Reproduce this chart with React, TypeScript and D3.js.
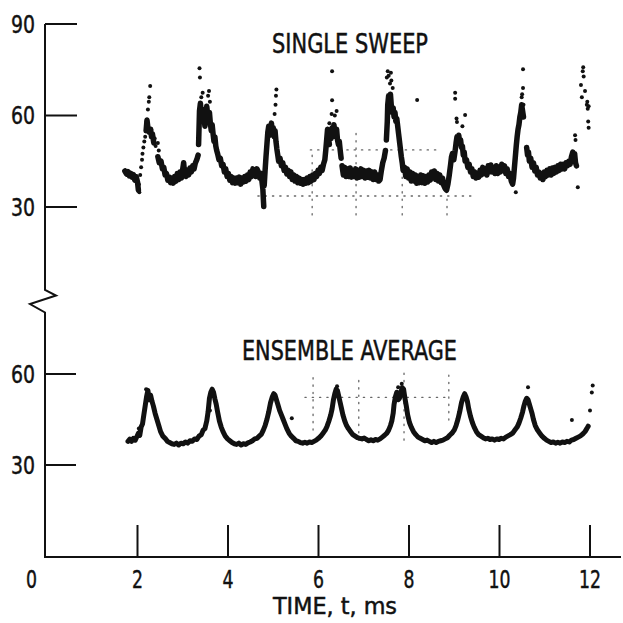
import React from "react";
import * as d3 from "d3";

type P = [number, number] | null;

// ---------- DATA ----------
const xTicks = [0, 2, 4, 6, 8, 10, 12];
const topTicks = [90, 60, 30];
const bottomTicks = [60, 30];
const topTitle = "SINGLE SWEEP";
const bottomTitle = "ENSEMBLE AVERAGE";
const xLabel = "TIME, t, ms";

// single sweep trace (time ms, value); null = gap
const sweepTrace: P[] = [
  [1.72,41.8],[1.76,40.8],[1.79,41.6],[1.82,40.2],[1.85,41.0],[1.88,39.8],[1.91,40.6],[1.94,38.8],[1.97,40.0],[2.00,38.2],[2.02,35.5], null,
  [2.19,55.0],[2.21,58.5],[2.23,56.0],[2.26,54.5],[2.29,55.5],[2.31,53.0],[2.33,54.0],[2.36,51.0], null,
  [2.45,46.5],[2.48,44.5],[2.52,45.0],[2.55,42.5],[2.58,43.0],[2.61,40.5],[2.64,41.0],[2.67,38.8],[2.70,39.8],[2.73,38.0],[2.76,39.5],[2.79,37.8],[2.82,40.0],[2.85,38.5],[2.88,41.0],[2.91,39.0],[2.94,41.5],[2.97,39.5],[3.00,42.5],[3.02,44.5],[3.04,41.0],[3.07,40.0],[3.10,42.0],[3.13,40.5],[3.16,42.8],[3.19,41.5],[3.22,43.5],[3.25,42.5],[3.28,44.5],[3.31,45.5],[3.34,47.0], null,
  [3.35,50.5],[3.36,56.0],[3.37,61.5],[3.39,64.0],[3.41,60.5],[3.43,58.0],[3.45,62.0],[3.47,59.5],[3.49,56.5],[3.51,60.0],[3.53,63.0],[3.55,60.5],[3.57,58.0],[3.59,61.0],[3.61,57.5],[3.63,55.0],[3.65,57.0],[3.67,54.0],[3.69,51.5],[3.71,53.0],[3.73,50.0],[3.75,48.5],
  [3.77,47.5],[3.80,45.5],[3.83,46.0],[3.86,43.5],[3.89,44.0],[3.92,41.5],[3.95,42.5],[3.98,40.0],[4.01,41.0],[4.04,38.8],[4.07,40.0],[4.10,38.0],[4.13,39.5],[4.16,37.8],[4.19,39.5],[4.22,38.0],[4.25,39.8],[4.28,37.5],[4.31,39.5],[4.34,38.2],[4.37,40.0],[4.40,38.5],[4.43,40.5],[4.46,39.0],[4.49,41.5],[4.52,40.0],[4.55,42.5],[4.58,41.0],[4.61,40.0],[4.64,42.5],[4.67,41.5],[4.70,39.5],[4.73,41.0],[4.75,38.5],[4.77,36.0],[4.78,33.0],[4.79,30.2], null,
  [4.80,37.0],[4.82,42.0],[4.84,46.5],[4.86,50.5],[4.88,54.5],[4.90,56.5],[4.92,53.5],[4.94,55.5],[4.96,57.5],[4.98,54.0],[5.00,56.0],[5.02,53.0],[5.04,55.0],[5.06,51.5],[5.08,49.0],[5.10,47.0],[5.12,45.0],[5.15,46.0],[5.18,43.5],[5.21,44.5],[5.24,42.0],[5.27,43.0],[5.30,40.8],[5.33,42.0],[5.36,40.0],[5.39,41.5],[5.42,39.0],[5.45,40.5],[5.48,38.5],[5.51,40.0],[5.54,38.0],[5.57,39.5],[5.60,37.8],[5.63,39.0],[5.66,37.5],[5.69,39.0],[5.72,37.8],[5.75,39.5],[5.78,38.0],[5.81,40.0],[5.84,38.5],[5.87,40.5],[5.90,39.0],[5.93,41.0],[5.96,40.0],[5.99,42.0],[6.02,41.0],[6.05,43.0],[6.08,42.0],[6.11,44.0],[6.14,45.5],[6.16,48.5],[6.18,52.0],[6.20,55.5],[6.22,53.0],[6.24,50.5], null,
  [6.28,52.5],[6.30,56.0],[6.32,54.0],[6.34,57.0],[6.36,55.0],[6.38,53.0],[6.40,55.5],[6.42,52.0],[6.44,50.5],[6.46,51.5],[6.48,48.5],[6.50,46.0], null,
  [6.52,43.5],[6.55,40.5],[6.58,43.0],[6.61,40.0],[6.64,42.5],[6.67,40.0],[6.70,42.8],[6.73,39.8],[6.76,42.0],[6.79,40.0],[6.82,42.5],[6.85,39.5],[6.88,42.0],[6.91,39.8],[6.94,42.5],[6.97,40.0],[7.00,42.0],[7.03,39.5],[7.06,41.8],[7.09,39.8],[7.12,42.0],[7.15,39.5],[7.18,41.5],[7.21,39.0],[7.24,41.5],[7.27,39.0],[7.30,40.5],[7.33,38.5],[7.36,39.0],[7.39,42.0],[7.42,44.5],[7.45,46.0],[7.48,48.5], null,
  [7.50,52.0],[7.52,58.0],[7.53,63.5],[7.55,66.5],[7.57,64.0],[7.59,67.0],[7.61,63.0],[7.63,61.0],[7.65,62.5],[7.67,59.5],[7.69,61.0],[7.71,58.0],[7.73,59.0],[7.75,56.5],[7.77,54.0],[7.79,51.5],[7.81,49.0],[7.83,46.5],[7.85,44.5],[7.87,42.0],
  [7.90,43.0],[7.93,40.0],[7.96,42.5],[7.99,39.5],[8.02,41.5],[8.05,38.5],[8.08,41.0],[8.11,38.5],[8.14,40.5],[8.17,37.8],[8.20,40.0],[8.23,38.0],[8.26,40.5],[8.29,38.0],[8.32,40.2],[8.35,37.8],[8.38,40.0],[8.41,38.2],[8.44,40.5],[8.47,38.8],[8.50,41.5],[8.53,39.5],[8.56,41.8],[8.59,39.0],[8.62,41.0],[8.65,38.5],[8.68,40.5],[8.71,38.0],[8.74,39.5],[8.77,37.0],[8.80,36.0],[8.83,35.5],[8.86,37.5],[8.89,40.5],[8.92,44.0],[8.94,46.5],
  [8.96,47.5],[8.99,45.5],[9.02,48.5],[9.04,51.0],[9.06,53.0],[9.08,51.5],[9.10,53.5],[9.12,51.0],[9.14,52.0],[9.16,49.5],[9.18,50.0],[9.20,47.0],[9.22,48.0],[9.24,45.0],[9.27,45.5],[9.30,43.0],[9.33,44.0],[9.36,41.5],[9.39,42.5],[9.42,40.0],[9.45,41.5],[9.48,39.5],[9.51,41.0],[9.54,39.8],[9.57,42.0],[9.60,40.5],[9.63,43.0],[9.66,41.0],[9.69,42.5],[9.72,40.5],[9.75,43.5],[9.78,41.5],[9.81,43.8],[9.84,41.5],[9.87,43.0],[9.90,41.0],[9.93,43.5],[9.96,41.0],[9.99,43.0],[10.02,41.5],[10.05,44.0],[10.08,42.0],[10.11,43.5],[10.14,41.0],[10.17,42.5],[10.20,40.0],[10.23,41.0],[10.26,38.5],[10.29,37.5],[10.31,39.5],[10.33,43.0],[10.35,46.5],[10.37,50.0],[10.39,53.0],[10.41,55.5],[10.43,57.0],[10.45,59.5],[10.47,61.0],[10.49,63.5],[10.51,61.5],[10.53,59.5], null,
  [10.60,49.5],[10.62,47.0],[10.64,48.0],[10.66,45.0],[10.69,46.0],[10.72,43.0],[10.75,44.5],[10.78,41.8],[10.81,43.0],[10.84,40.5],[10.87,41.5],[10.90,39.5],[10.93,41.0],[10.96,39.0],[10.99,41.5],[11.02,40.0],[11.05,42.0],[11.08,40.5],[11.11,42.5],[11.14,40.5],[11.17,42.8],[11.20,41.0],[11.23,43.0],[11.26,41.5],[11.29,43.5],[11.32,42.0],[11.35,44.0],[11.38,42.5],[11.41,44.0],[11.44,42.5],[11.47,44.5],[11.50,43.5],[11.53,45.0],[11.56,44.0],[11.59,46.5],[11.62,48.0],[11.64,46.0],[11.66,47.5],[11.68,44.5],[11.70,43.5],
];

// isolated points of the single sweep
const sweepDots: [number, number][] = [
  [2.03,37.5],[2.04,34.8],[2.06,40.5],[2.08,43.0],[2.10,45.5],[2.11,47.5],[2.13,49.5],[2.15,51.5],[2.17,53.0],[2.20,58.0],[2.23,62.0],[2.25,64.5],[2.26,66.0],[2.28,69.7],[2.30,55.5],[2.34,53.0],[2.38,52.5],[2.40,50.0],[2.45,51.0],[2.47,48.5],
  [3.37,75.5],[3.38,72.5],[3.41,66.0],[3.44,67.5],[3.56,66.5],[3.58,68.0],[3.60,64.5],
  [5.06,66.5],[5.07,68.5],[5.03,60.5],[5.05,63.5],
  [6.30,74.5],[6.30,65.0],[6.29,60.5],[6.40,61.5],[6.36,60.0],[6.24,57.5],
  [7.51,72.5],[7.53,74.5],[7.55,73.0],[7.60,74.0],[7.61,71.5],[7.58,70.5],[7.64,69.0],[8.18,65.1],
  [9.02,67.5],[9.02,65.5],[9.06,57.9],[9.05,59.0],[9.18,56.5],[9.24,60.2],
  [10.52,75.2],[10.52,69.0],[10.50,67.0],[10.49,66.0],[10.53,63.5],[10.36,34.8],
  [11.67,53.5],[11.68,52.0],[11.82,66.0],[11.84,74.5],[11.85,75.8],[11.86,72.8],[11.89,68.0],[11.80,70.0],[11.93,63.5],[11.95,62.2],[11.97,63.0],[11.94,64.5],[11.96,58.0],[11.97,56.0],[11.73,36.5],
];

// ensemble average trace
const avgTrace: P[] = [
  [1.79,37.8],[1.83,38.5],[1.87,37.8],[1.91,38.8],[1.95,38.2],[1.99,39.5],[2.02,40.5],[2.05,39.8],[2.08,42.5],[2.11,43.5],[2.14,46.5],[2.17,49.5],[2.20,52.5],[2.23,54.6],[2.26,51.5],[2.29,53.0],[2.32,51.0],[2.35,49.5],[2.39,47.0],[2.43,45.0],[2.47,43.0],[2.51,41.0],[2.56,39.5],[2.61,38.8],[2.66,37.8],[2.71,37.4],[2.76,37.0],[2.81,36.8],[2.86,37.2],[2.91,36.6],[2.96,37.2],[3.01,37.0],[3.06,37.6],[3.11,37.2],[3.16,38.0],[3.21,37.8],[3.26,38.6],[3.31,38.4],[3.36,39.5],[3.41,40.0],[3.45,41.5],[3.49,42.0],[3.53,44.5],[3.56,47.5],[3.59,52.0],[3.62,54.0],[3.65,55.0],[3.68,54.0],[3.71,51.8],[3.74,50.0],[3.77,47.5],[3.81,44.5],[3.85,42.5],[3.89,41.0],[3.94,39.5],[3.99,38.6],[4.04,38.0],[4.09,37.4],[4.14,37.0],[4.19,36.8],[4.24,37.2],[4.29,36.6],[4.34,37.0],[4.39,36.8],[4.44,37.3],[4.49,37.6],[4.54,38.0],[4.59,38.6],[4.64,38.8],[4.69,39.5],[4.74,40.2],[4.78,41.5],[4.82,43.0],[4.86,45.0],[4.90,47.5],[4.94,50.5],[4.98,52.5],[5.01,53.5],[5.04,53.0],[5.07,51.5],[5.10,50.0],[5.14,48.0],[5.18,46.5],[5.22,45.0],[5.26,43.5],[5.30,42.0],[5.35,40.5],[5.40,39.5],[5.45,38.8],[5.50,38.0],[5.55,37.8],[5.60,37.4],[5.65,37.2],[5.70,37.5],[5.75,37.2],[5.80,37.6],[5.85,37.4],[5.90,37.8],[5.95,38.2],[6.00,38.8],[6.05,39.5],[6.10,40.5],[6.15,41.5],[6.19,42.8],[6.23,44.5],[6.27,46.5],[6.30,48.5],[6.33,51.5],[6.36,53.5],[6.39,55.0],[6.42,54.5],[6.45,52.5],[6.48,50.5],[6.51,48.5],[6.54,46.5],[6.58,44.5],[6.62,43.0],[6.66,42.0],[6.71,41.0],[6.76,40.0],[6.81,39.5],[6.86,39.0],[6.91,38.8],[6.96,38.6],[7.01,38.9],[7.06,38.4],[7.11,38.0],[7.16,38.3],[7.21,38.0],[7.26,38.4],[7.31,38.2],[7.36,38.6],[7.41,39.2],[7.46,39.8],[7.51,40.5],[7.55,41.5],[7.59,43.0],[7.62,44.5],[7.65,47.0],[7.67,50.0],[7.70,52.5],[7.73,54.0],[7.76,51.5],[7.79,52.0],[7.82,54.0],[7.85,55.5],[7.88,55.0],[7.91,52.0],[7.94,49.5],[7.97,46.5],[8.01,44.0],[8.05,42.5],[8.10,41.0],[8.15,40.0],[8.20,39.2],[8.25,38.8],[8.30,38.4],[8.35,38.0],[8.40,38.2],[8.45,37.8],[8.50,37.4],[8.55,37.8],[8.60,37.4],[8.65,37.8],[8.70,38.0],[8.75,38.2],[8.80,38.6],[8.85,39.0],[8.90,39.8],[8.95,40.5],[9.00,41.5],[9.04,43.0],[9.08,45.0],[9.12,47.5],[9.16,50.5],[9.20,52.5],[9.23,53.5],[9.26,52.5],[9.29,51.0],[9.32,48.5],[9.36,46.0],[9.40,44.0],[9.44,42.5],[9.49,41.0],[9.54,40.0],[9.59,39.5],[9.64,39.0],[9.69,38.6],[9.74,38.8],[9.79,38.4],[9.84,38.6],[9.89,38.2],[9.94,38.6],[9.99,38.4],[10.04,38.8],[10.09,38.6],[10.14,39.2],[10.19,39.6],[10.24,40.0],[10.29,40.5],[10.34,41.5],[10.39,42.5],[10.43,43.8],[10.47,45.5],[10.51,47.5],[10.54,49.5],[10.57,51.0],[10.60,52.0],[10.63,51.5],[10.66,50.0],[10.69,48.5],[10.72,47.0],[10.75,45.0],[10.79,43.0],[10.84,41.5],[10.89,40.5],[10.94,39.5],[10.99,38.8],[11.04,38.2],[11.09,37.8],[11.14,37.4],[11.19,37.6],[11.24,37.2],[11.29,37.5],[11.34,37.2],[11.39,37.6],[11.44,37.4],[11.49,37.8],[11.54,37.6],[11.59,38.2],[11.64,38.4],[11.69,38.8],[11.74,39.2],[11.79,39.6],[11.84,40.2],[11.89,41.0],[11.93,42.0],[11.96,42.8],
];

const avgDots: [number, number][] = [
  [10.63,55.6],[12.00,48.0],[12.04,53.9],[12.06,56.2],[11.60,44.8],[5.41,45.4],[3.60,48.0],[2.03,42.0],[2.19,55.0],[6.41,56.0],[7.84,56.8],[7.76,55.6],
];

// faint dotted reference lines: [value, tStart, tEnd] and [t, vStart, vEnd]
const topGridH: [number, number, number][] = [[48.7, 5.82, 8.62], [33.6, 4.66, 9.42]];
const topGridV: [number, number, number][] = [[5.86, 27.4, 48.7], [6.83, 27.4, 55.2], [7.85, 27.4, 48.7], [8.84, 27.4, 33.6]];
const botGridH: [number, number, number][] = [[52.3, 5.70, 8.90]];
const botGridV: [number, number, number][] = [[5.88, 41.5, 59.6], [6.89, 38.2, 59.6], [7.89, 38.2, 61.2], [8.88, 44.8, 59.6]];

// ---------- CHART ----------
const INK = "#111";
const FONT = "'Liberation Sans Narrow', 'DejaVu Sans Condensed', 'Liberation Sans', sans-serif";

export default function App() {
  const x = d3.scaleLinear().domain([0, 12]).range([47, 590]);
  const yTop = d3.scaleLinear().domain([30, 90]).range([207, 24]);
  const yBot = d3.scaleLinear().domain([30, 60]).range([465, 374]);
  const axisX = 45;
  const baseY = 557;

  const lineTop = d3.line<P>().defined((d) => d !== null).x((d) => x(d![0])).y((d) => yTop(d![1]));
  const lineBot = d3.line<P>().defined((d) => d !== null).x((d) => x(d![0])).y((d) => yBot(d![1]));

  const breakPath = `M${axisX},${yTop(90)} V290 L56,295.5 L30,304 L${axisX},312.5 V${baseY} H621`;

  const grid = (h: [number, number, number][], v: [number, number, number][], y: d3.ScaleLinear<number, number>, key: string) => (
    <g key={key} stroke="#666" strokeWidth={1.3} strokeDasharray="1.3 6" strokeLinecap="round">
      {h.map((g, i) => <line key={"h" + i} x1={x(g[1])} x2={x(g[2])} y1={y(g[0])} y2={y(g[0])} />)}
      {v.map((g, i) => <line key={"v" + i} x1={x(g[0])} x2={x(g[0])} y1={y(g[1])} y2={y(g[2])} />)}
    </g>
  );

  const txt = { fontFamily: FONT, fill: INK, stroke: INK, strokeWidth: 0.45 } as const;

  return (
    <svg width={623} height={623} style={{ position: "absolute", left: 0, top: 0, background: "#fff" }}>
      <rect width={623} height={623} fill="#fff" />
      {grid(topGridH, topGridV, yTop, "gt")}
      {grid(botGridH, botGridV, yBot, "gb")}

      {/* axis */}
      <path d={breakPath} fill="none" stroke={INK} strokeWidth={2} strokeLinejoin="miter" />
      {topTicks.map((t) => (
        <g key={"tt" + t}>
          <line x1={axisX} x2={77} y1={yTop(t)} y2={yTop(t)} stroke={INK} strokeWidth={2} />
          <text x={35} y={yTop(t) + 8.5} textAnchor="end" fontSize={25} {...txt}
            textLength={24} lengthAdjust="spacingAndGlyphs">{t}</text>
        </g>
      ))}
      {bottomTicks.map((t) => (
        <g key={"bt" + t}>
          <line x1={axisX} x2={76} y1={yBot(t)} y2={yBot(t)} stroke={INK} strokeWidth={2} />
          <text x={35} y={yBot(t) + 8.5} textAnchor="end" fontSize={25} {...txt}
            textLength={24} lengthAdjust="spacingAndGlyphs">{t}</text>
        </g>
      ))}
      {xTicks.map((t) => (
        <g key={"xt" + t}>
          {t > 0 && <line x1={x(t)} x2={x(t)} y1={baseY} y2={525} stroke={INK} strokeWidth={2} />}
          <text x={t === 0 ? 31.5 : x(t)} y={587.5} textAnchor="middle" fontSize={25} {...txt}
            textLength={t >= 10 ? 22 : 11} lengthAdjust="spacingAndGlyphs">{t}</text>
        </g>
      ))}
      <text x={335} y={614} textAnchor="middle" fontSize={23} {...txt}
        textLength={124} lengthAdjust="spacingAndGlyphs">{xLabel}</text>

      {/* titles */}
      <text x={272} y={53} fontSize={26} {...txt} textLength={156} lengthAdjust="spacingAndGlyphs">{topTitle}</text>
      <text x={242} y={360} fontSize={26} {...txt} textLength={215} lengthAdjust="spacingAndGlyphs">{bottomTitle}</text>

      {/* single sweep */}
      <path d={lineTop(sweepTrace) || ""} fill="none" stroke={INK} strokeWidth={5.5} strokeLinejoin="round" strokeLinecap="round" />
      {sweepDots.map((d, i) => (
        <circle key={"sd" + i} cx={x(d[0])} cy={yTop(d[1])} r={2} fill={INK} />
      ))}

      {/* ensemble average */}
      <path d={lineBot(avgTrace) || ""} fill="none" stroke={INK} strokeWidth={5} strokeLinejoin="round" strokeLinecap="round" />
      {avgDots.map((d, i) => (
        <circle key={"ad" + i} cx={x(d[0])} cy={yBot(d[1])} r={2} fill={INK} />
      ))}
    </svg>
  );
}
